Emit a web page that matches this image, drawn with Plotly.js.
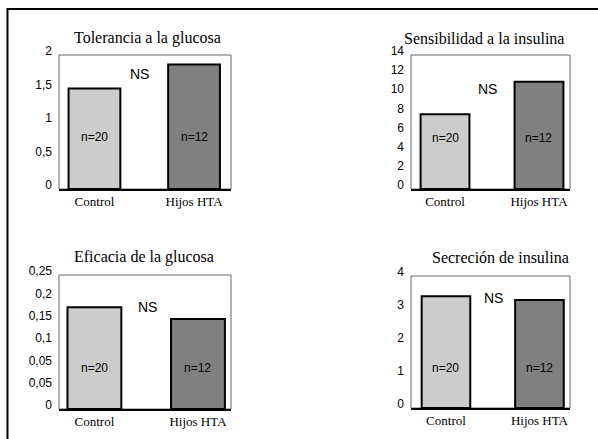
<!DOCTYPE html>
<html>
<head>
<meta charset="utf-8">
<script src="https://cdn.plot.ly/plotly-3.0.1.min.js"></script>
<style>html,body{margin:0;padding:0;background:#fff}#chart{width:598px;height:439px}</style>
</head>
<body>
<div id="chart"></div>
<script>
// ---- data ----
const categories = ["Control", "Hijos HTA"];
const nLabels = ["n=20", "n=12"];
const panelTitles = ["Tolerancia a la glucosa", "Sensibilidad a la insulina", "Eficacia de la glucosa", "Secreción de insulina"];
const toleranciaValues = [1.5, 1.86];
const sensibilidadValues = [7.8, 11.2];
const eficaciaValues = [0.19, 0.168];
const secrecionValues = [3.39, 3.27];
const sigLabel = "NS";
const eficaciaTickText = ["0", "0,05", "0,05", "0,1", "0,15", "0,2", "0,25"];
const barColors = ["#cccccc", "#808080"];

const series = [toleranciaValues, sensibilidadValues, eficaciaValues, secrecionValues];

// ---- layout geometry ----
const W = 598, H = 439;
const panels = [
  {x: [59, 231], y: [55, 189], xr: [-0.356, 1.371], yr: [0, 2], dtick: 0.5, ns: [0.468, 0.858], nY: 0.388, title: [147.5, 38]},
  {x: [411, 570], y: [55, 189], xr: [-0.362, 1.330], yr: [0, 14], dtick: 2, ns: [0.481, 0.746], nY: 0.381, title: [484, 38]},
  {x: [59, 231], y: [275, 409], xr: [-0.342, 1.319], yr: [0, 0.25], custom: true, ns: [0.517, 0.761], nY: 0.306, title: [143.5, 257]},
  {x: [411, 570], y: [276, 408], xr: [-0.374, 1.327], yr: [0, 4], dtick: 1, ns: [0.519, 0.833], nY: 0.303, title: [500.5, 257]}
];

const sans = "Liberation Sans, Arial, sans-serif";
const serif = "Liberation Serif, Times New Roman, serif";

const data = [];
const layout = {
  width: W, height: H,
  margin: {l: 0, r: 0, t: 0, b: 0},
  paper_bgcolor: "#fff", plot_bgcolor: "#fff",
  showlegend: false,
  separators: ", ",
  annotations: [],
  shapes: [
    {type: "rect", xref: "paper", yref: "paper", x0: 7.5 / W, x1: 1.05, y0: -0.05, y1: 1 - 9 / H,
     line: {color: "#000", width: 2}, fillcolor: "rgba(0,0,0,0)"}
  ]
};

panels.forEach((p, i) => {
  const k = i === 0 ? "" : String(i + 1);
  const xa = "x" + k, ya = "y" + k;
  data.push({
    type: "bar", x: [0, 1], y: series[i], xaxis: xa, yaxis: ya, width: 0.52,
    marker: {color: barColors, line: {color: "#000", width: 2}},
    hoverinfo: "none"
  });
  const yaxis = {
    domain: [1 - p.y[1] / H, 1 - p.y[0] / H], range: p.yr, anchor: xa,
    showgrid: false, zeroline: false, showline: false, ticks: "",
    ticklabelstandoff: 6, ticklabelshift: -4,
    tickfont: {family: sans, size: 12, color: "#000"}, fixedrange: true
  };
  if (p.custom) {
    yaxis.tickmode = "array";
    yaxis.tickvals = eficaciaTickText.map((_, j) => j * p.yr[1] / (eficaciaTickText.length - 1));
    yaxis.ticktext = eficaciaTickText;
  } else {
    yaxis.tickmode = "linear"; yaxis.tick0 = 0; yaxis.dtick = p.dtick;
  }
  layout["yaxis" + k] = yaxis;
  layout["xaxis" + k] = {
    domain: [p.x[0] / W, p.x[1] / W], range: p.xr, anchor: ya,
    tickmode: "array", tickvals: [0, 1], ticktext: categories,
    showgrid: false, zeroline: false, showline: true, linecolor: "#000", linewidth: 1.5,
    ticks: "", tickfont: {family: serif, size: 13, color: "#000"}, fixedrange: true
  };
  layout.shapes.push({type: "rect", xref: xa + " domain", yref: ya + " domain", x0: 0, x1: 1, y0: 0, y1: 1,
    line: {color: "#666", width: 1}, layer: "below"});
  layout.annotations.push({xref: "paper", yref: "paper", x: p.title[0] / W, y: 1 - p.title[1] / H,
    text: panelTitles[i], showarrow: false, xanchor: "center", yanchor: "middle",
    font: {family: serif, size: 16, color: "#000"}});
  layout.annotations.push({xref: xa + " domain", yref: ya + " domain", x: p.ns[0], y: p.ns[1],
    text: sigLabel, showarrow: false, xanchor: "center", yanchor: "middle",
    font: {family: sans, size: 14, color: "#000"}});
  nLabels.forEach((t, j) => {
    layout.annotations.push({xref: xa, yref: ya + " domain", x: j, y: p.nY,
      text: t, showarrow: false, xanchor: "center", yanchor: "middle",
      font: {family: sans, size: 12, color: "#000"}});
  });
});

Plotly.newPlot("chart", data, layout, {displayModeBar: false, staticPlot: true});
</script>
</body>
</html>
